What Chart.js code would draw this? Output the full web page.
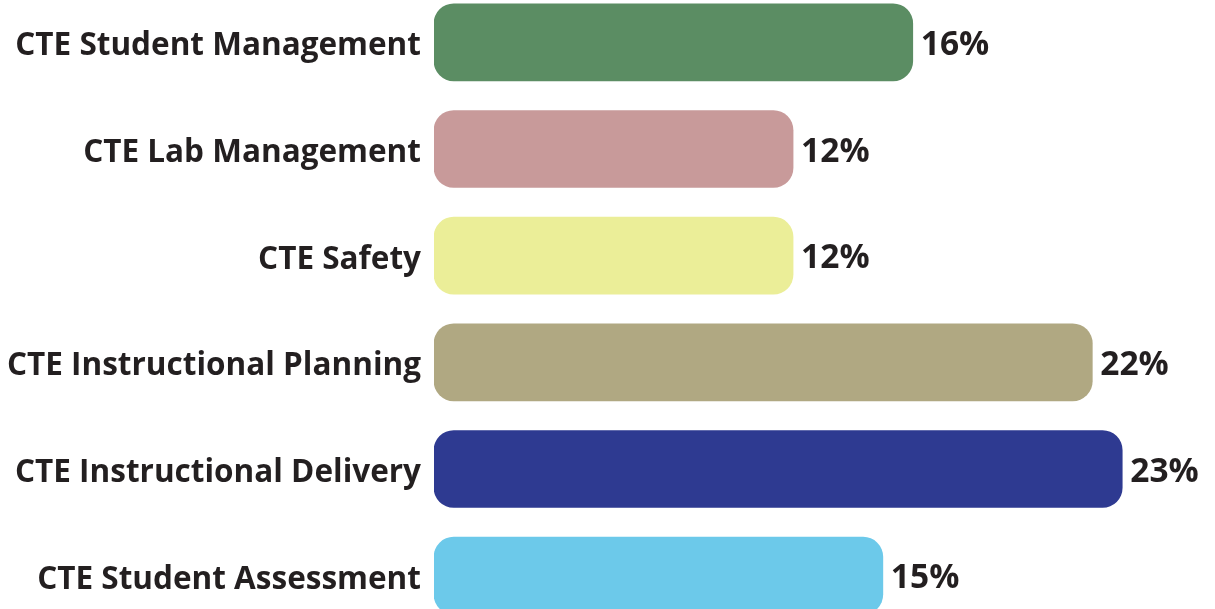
<!DOCTYPE html>
<html>
<head>
<meta charset="utf-8">
<script src="https://cdn.jsdelivr.net/npm/chart.js@4"></script>
<style>
  html, body { margin: 0; padding: 0; background: #ffffff; overflow: hidden; }
  #wrap { position: absolute; left: 0; top: -11px; width: 1215px; height: 640px; }
</style>
</head>
<body>
<div id="wrap"><canvas id="c"></canvas></div>
<script>
const categories = [
  "CTE Student Management",
  "CTE Lab Management",
  "CTE Safety",
  "CTE Instructional Planning",
  "CTE Instructional Delivery",
  "CTE Student Assessment"
];
const values = [16, 12, 12, 22, 23, 15];
const barColors = ["#5b8d63", "#c89a9a", "#ebee98", "#b0a882", "#2e3a91", "#6cc9ea"];

const FONT = "'Open Sans', sans-serif";
const TEXT = "#231f20";

const valueLabels = {
  id: "valueLabels",
  afterDatasetsDraw(chart) {
    const ctx = chart.ctx;
    const meta = chart.getDatasetMeta(0);
    ctx.save();
    ctx.font = "bold 33.5px " + FONT;
    ctx.fillStyle = TEXT;
    ctx.textAlign = "left";
    ctx.textBaseline = "middle";
    meta.data.forEach((bar, i) => {
      ctx.fillText(values[i] + "%", bar.x + 8, bar.y + 3);
    });
    ctx.restore();
  }
};

new Chart(document.getElementById("c"), {
  type: "bar",
  data: {
    labels: categories,
    datasets: [{
      data: values,
      backgroundColor: barColors,
      borderRadius: 20,
      borderSkipped: false,
      barThickness: 77,
      categoryPercentage: 1,
      barPercentage: 1
    }]
  },
  options: {
    indexAxis: "y",
    responsive: true,
    maintainAspectRatio: false,
    animation: false,
    layout: { padding: 0 },
    plugins: { legend: { display: false }, tooltip: { enabled: false } },
    scales: {
      x: { display: false, min: 0, max: 26.1 },
      y: {
        grid: { display: false, drawTicks: false },
        border: { display: false },
        ticks: {
          color: TEXT,
          padding: 13,
          labelOffset: 4,
          font: { family: FONT, weight: "bold", size: 31.5 }
        },
        afterFit(scale) {
          scale.width = 434;
          scale.paddingTop = 0;
          scale.paddingBottom = 0;
        }
      }
    }
  },
  plugins: [valueLabels]
});
</script>
</body>
</html>
